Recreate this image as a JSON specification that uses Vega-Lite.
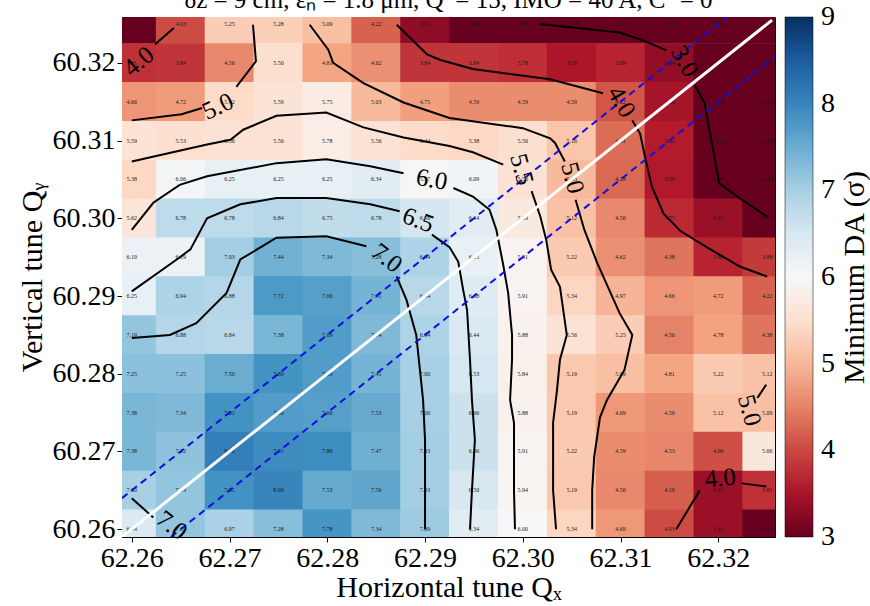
{
  "$schema": "https://vega.github.io/schema/vega-lite/v6.json",
  "width": 653,
  "height": 520,
  "autosize": {"type": "none"},
  "padding": {"left": 122, "top": 17, "right": 95, "bottom": 69},
  "background": "white",
  "config": {
    "view": {"stroke": "black", "strokeWidth": 1},
    "font": "Liberation Serif",
    "axis": {
      "labelFont": "Liberation Serif", "labelFontSize": 28, "labelColor": "black",
      "titleFont": "Liberation Serif", "titleFontSize": 30, "titleFontWeight": "normal", "titleColor": "black",
      "tickColor": "black", "domainColor": "black", "grid": false, "tickSize": 5, "labelPadding": 2,
      "labelFlush": false, "labelOverlap": false
    }
  },
  "title": {
    "text": "δz = 9 cm, εₙ = 1.8 μm, Q′ = 15, IMO = 40 A, C⁻ = 0",
    "font": "Liberation Serif", "fontSize": 25, "fontWeight": "normal", "color": "black",
    "baseline": "alphabetic", "offset": 6, "dy": 22, "anchor": "middle", "frame": "group"
  },
  "resolve": {"axis": {"y": "independent"}},
  "datasets": {
    "grid": [
      {"qx":62.26,"qy":60.325,"v":2.97},{"qx":62.265,"qy":60.325,"v":4.03},{"qx":62.27,"qy":60.325,"v":5.25},{"qx":62.275,"qy":60.325,"v":5.28},{"qx":62.28,"qy":60.325,"v":5.09},{"qx":62.285,"qy":60.325,"v":4.22},{"qx":62.29,"qy":60.325,"v":3.31},{"qx":62.295,"qy":60.325,"v":2.84},{"qx":62.3,"qy":60.325,"v":2.89},{"qx":62.305,"qy":60.325,"v":2.98},{"qx":62.31,"qy":60.325,"v":2.53},{"qx":62.315,"qy":60.325,"v":2.56},{"qx":62.32,"qy":60.325,"v":2.62},{"qx":62.325,"qy":60.325,"v":2.5},
      {"qx":62.26,"qy":60.32,"v":3.81},{"qx":62.265,"qy":60.32,"v":3.84},{"qx":62.27,"qy":60.32,"v":4.56},{"qx":62.275,"qy":60.32,"v":5.5},{"qx":62.28,"qy":60.32,"v":4.81},{"qx":62.285,"qy":60.32,"v":4.62},{"qx":62.29,"qy":60.32,"v":3.84},{"qx":62.295,"qy":60.32,"v":3.84},{"qx":62.3,"qy":60.32,"v":3.78},{"qx":62.305,"qy":60.32,"v":3.56},{"qx":62.31,"qy":60.32,"v":3.69},{"qx":62.315,"qy":60.32,"v":3.34},{"qx":62.32,"qy":60.32,"v":2.66},{"qx":62.325,"qy":60.32,"v":2.5},
      {"qx":62.26,"qy":60.315,"v":4.66},{"qx":62.265,"qy":60.315,"v":4.72},{"qx":62.27,"qy":60.315,"v":5.42},{"qx":62.275,"qy":60.315,"v":5.59},{"qx":62.28,"qy":60.315,"v":5.75},{"qx":62.285,"qy":60.315,"v":5.03},{"qx":62.29,"qy":60.315,"v":4.75},{"qx":62.295,"qy":60.315,"v":4.59},{"qx":62.3,"qy":60.315,"v":4.59},{"qx":62.305,"qy":60.315,"v":4.59},{"qx":62.31,"qy":60.315,"v":4.12},{"qx":62.315,"qy":60.315,"v":3.5},{"qx":62.32,"qy":60.315,"v":2.81},{"qx":62.325,"qy":60.315,"v":2.5},
      {"qx":62.26,"qy":60.31,"v":5.59},{"qx":62.265,"qy":60.31,"v":5.53},{"qx":62.27,"qy":60.31,"v":5.56},{"qx":62.275,"qy":60.31,"v":5.56},{"qx":62.28,"qy":60.31,"v":5.78},{"qx":62.285,"qy":60.31,"v":5.56},{"qx":62.29,"qy":60.31,"v":5.44},{"qx":62.295,"qy":60.31,"v":5.38},{"qx":62.3,"qy":60.31,"v":5.5},{"qx":62.305,"qy":60.31,"v":5.16},{"qx":62.31,"qy":60.31,"v":4.31},{"qx":62.315,"qy":60.31,"v":3.62},{"qx":62.32,"qy":60.31,"v":2.81},{"qx":62.325,"qy":60.31,"v":2.5},
      {"qx":62.26,"qy":60.305,"v":5.38},{"qx":62.265,"qy":60.305,"v":6.06},{"qx":62.27,"qy":60.305,"v":6.25},{"qx":62.275,"qy":60.305,"v":6.25},{"qx":62.28,"qy":60.305,"v":6.25},{"qx":62.285,"qy":60.305,"v":6.34},{"qx":62.29,"qy":60.305,"v":5.97},{"qx":62.295,"qy":60.305,"v":6.09},{"qx":62.3,"qy":60.305,"v":5.56},{"qx":62.305,"qy":60.305,"v":5.03},{"qx":62.31,"qy":60.305,"v":4.28},{"qx":62.315,"qy":60.305,"v":3.59},{"qx":62.32,"qy":60.305,"v":2.98},{"qx":62.325,"qy":60.305,"v":2.5},
      {"qx":62.26,"qy":60.3,"v":5.62},{"qx":62.265,"qy":60.3,"v":6.78},{"qx":62.27,"qy":60.3,"v":6.78},{"qx":62.275,"qy":60.3,"v":6.84},{"qx":62.28,"qy":60.3,"v":6.75},{"qx":62.285,"qy":60.3,"v":6.78},{"qx":62.29,"qy":60.3,"v":6.56},{"qx":62.295,"qy":60.3,"v":6.34},{"qx":62.3,"qy":60.3,"v":5.69},{"qx":62.305,"qy":60.3,"v":5.12},{"qx":62.31,"qy":60.3,"v":4.56},{"qx":62.315,"qy":60.3,"v":3.75},{"qx":62.32,"qy":60.3,"v":3.41},{"qx":62.325,"qy":60.3,"v":2.85},
      {"qx":62.26,"qy":60.295,"v":6.19},{"qx":62.265,"qy":60.295,"v":6.19},{"qx":62.27,"qy":60.295,"v":7.03},{"qx":62.275,"qy":60.295,"v":7.44},{"qx":62.28,"qy":60.295,"v":7.34},{"qx":62.285,"qy":60.295,"v":7.28},{"qx":62.29,"qy":60.295,"v":6.94},{"qx":62.295,"qy":60.295,"v":6.25},{"qx":62.3,"qy":60.295,"v":5.91},{"qx":62.305,"qy":60.295,"v":5.22},{"qx":62.31,"qy":60.295,"v":4.62},{"qx":62.315,"qy":60.295,"v":4.38},{"qx":62.32,"qy":60.295,"v":3.69},{"qx":62.325,"qy":60.295,"v":3.88},
      {"qx":62.26,"qy":60.29,"v":6.25},{"qx":62.265,"qy":60.29,"v":6.94},{"qx":62.27,"qy":60.29,"v":6.88},{"qx":62.275,"qy":60.29,"v":7.72},{"qx":62.28,"qy":60.29,"v":7.66},{"qx":62.285,"qy":60.29,"v":7.41},{"qx":62.29,"qy":60.29,"v":6.84},{"qx":62.295,"qy":60.29,"v":6.38},{"qx":62.3,"qy":60.29,"v":5.91},{"qx":62.305,"qy":60.29,"v":5.34},{"qx":62.31,"qy":60.29,"v":4.97},{"qx":62.315,"qy":60.29,"v":4.66},{"qx":62.32,"qy":60.29,"v":4.72},{"qx":62.325,"qy":60.29,"v":4.22},
      {"qx":62.26,"qy":60.285,"v":7.19},{"qx":62.265,"qy":60.285,"v":6.88},{"qx":62.27,"qy":60.285,"v":6.84},{"qx":62.275,"qy":60.285,"v":7.38},{"qx":62.28,"qy":60.285,"v":7.69},{"qx":62.285,"qy":60.285,"v":7.34},{"qx":62.29,"qy":60.285,"v":6.94},{"qx":62.295,"qy":60.285,"v":6.44},{"qx":62.3,"qy":60.285,"v":5.88},{"qx":62.305,"qy":60.285,"v":5.56},{"qx":62.31,"qy":60.285,"v":5.25},{"qx":62.315,"qy":60.285,"v":4.5},{"qx":62.32,"qy":60.285,"v":4.78},{"qx":62.325,"qy":60.285,"v":4.38},
      {"qx":62.26,"qy":60.28,"v":7.25},{"qx":62.265,"qy":60.28,"v":7.25},{"qx":62.27,"qy":60.28,"v":7.5},{"qx":62.275,"qy":60.28,"v":7.8},{"qx":62.28,"qy":60.28,"v":7.69},{"qx":62.285,"qy":60.28,"v":7.41},{"qx":62.29,"qy":60.28,"v":7.0},{"qx":62.295,"qy":60.28,"v":6.53},{"qx":62.3,"qy":60.28,"v":5.84},{"qx":62.305,"qy":60.28,"v":5.19},{"qx":62.31,"qy":60.28,"v":5.09},{"qx":62.315,"qy":60.28,"v":4.81},{"qx":62.32,"qy":60.28,"v":5.22},{"qx":62.325,"qy":60.28,"v":5.12},
      {"qx":62.26,"qy":60.275,"v":7.38},{"qx":62.265,"qy":60.275,"v":7.34},{"qx":62.27,"qy":60.275,"v":7.81},{"qx":62.275,"qy":60.275,"v":7.69},{"qx":62.28,"qy":60.275,"v":7.66},{"qx":62.285,"qy":60.275,"v":7.53},{"qx":62.29,"qy":60.275,"v":7.0},{"qx":62.295,"qy":60.275,"v":6.66},{"qx":62.3,"qy":60.275,"v":5.88},{"qx":62.305,"qy":60.275,"v":5.19},{"qx":62.31,"qy":60.275,"v":4.69},{"qx":62.315,"qy":60.275,"v":4.59},{"qx":62.32,"qy":60.275,"v":5.12},{"qx":62.325,"qy":60.275,"v":5.09},
      {"qx":62.26,"qy":60.27,"v":7.38},{"qx":62.265,"qy":60.27,"v":7.22},{"qx":62.27,"qy":60.27,"v":8.06},{"qx":62.275,"qy":60.27,"v":7.91},{"qx":62.28,"qy":60.27,"v":7.88},{"qx":62.285,"qy":60.27,"v":7.47},{"qx":62.29,"qy":60.27,"v":7.03},{"qx":62.295,"qy":60.27,"v":6.66},{"qx":62.3,"qy":60.27,"v":5.91},{"qx":62.305,"qy":60.27,"v":5.22},{"qx":62.31,"qy":60.27,"v":4.59},{"qx":62.315,"qy":60.27,"v":4.53},{"qx":62.32,"qy":60.27,"v":4.06},{"qx":62.325,"qy":60.27,"v":5.66},
      {"qx":62.26,"qy":60.265,"v":7.0},{"qx":62.265,"qy":60.265,"v":7.19},{"qx":62.27,"qy":60.265,"v":7.81},{"qx":62.275,"qy":60.265,"v":8.0},{"qx":62.28,"qy":60.265,"v":7.53},{"qx":62.285,"qy":60.265,"v":7.59},{"qx":62.29,"qy":60.265,"v":7.03},{"qx":62.295,"qy":60.265,"v":6.5},{"qx":62.3,"qy":60.265,"v":5.94},{"qx":62.305,"qy":60.265,"v":5.19},{"qx":62.31,"qy":60.265,"v":4.56},{"qx":62.315,"qy":60.265,"v":4.19},{"qx":62.32,"qy":60.265,"v":3.41},{"qx":62.325,"qy":60.265,"v":3.81},
      {"qx":62.26,"qy":60.26,"v":6.44},{"qx":62.265,"qy":60.26,"v":7.19},{"qx":62.27,"qy":60.26,"v":6.97},{"qx":62.275,"qy":60.26,"v":7.28},{"qx":62.28,"qy":60.26,"v":7.78},{"qx":62.285,"qy":60.26,"v":7.34},{"qx":62.29,"qy":60.26,"v":7.09},{"qx":62.295,"qy":60.26,"v":6.34},{"qx":62.3,"qy":60.26,"v":6.0},{"qx":62.305,"qy":60.26,"v":5.34},{"qx":62.31,"qy":60.26,"v":4.69},{"qx":62.315,"qy":60.26,"v":4.03},{"qx":62.32,"qy":60.26,"v":3.41},{"qx":62.325,"qy":60.26,"v":2.69}
    ],
    "contours": [
      {"seg":"a","i":0,"qx":62.2643,"qy":60.3245},{"seg":"a","i":1,"qx":62.2624,"qy":60.3224},
      {"seg":"b1","i":0,"qx":62.2724,"qy":60.3249},{"seg":"b1","i":1,"qx":62.2727,"qy":60.3202},{"seg":"b1","i":2,"qx":62.2707,"qy":60.3169},
      {"seg":"b2","i":0,"qx":62.2672,"qy":60.3142},{"seg":"b2","i":1,"qx":62.2651,"qy":60.3134},{"seg":"b2","i":2,"qx":62.26,"qy":60.3126},
      {"seg":"c1","i":0,"qx":62.2871,"qy":60.3249},{"seg":"c1","i":1,"qx":62.2902,"qy":60.3211},{"seg":"c1","i":2,"qx":62.2915,"qy":60.3204},{"seg":"c1","i":3,"qx":62.2949,"qy":60.3192},{"seg":"c1","i":4,"qx":62.3028,"qy":60.3179},{"seg":"c1","i":5,"qx":62.3082,"qy":60.3161},
      {"seg":"c2","i":0,"qx":62.3112,"qy":60.3126},{"seg":"c2","i":1,"qx":62.312,"qy":60.3109},{"seg":"c2","i":2,"qx":62.3125,"qy":60.3079},{"seg":"c2","i":3,"qx":62.3132,"qy":60.3041},{"seg":"c2","i":4,"qx":62.3144,"qy":60.3006},{"seg":"c2","i":5,"qx":62.3161,"qy":60.2984},{"seg":"c2","i":6,"qx":62.3188,"qy":60.2963},{"seg":"c2","i":7,"qx":62.3222,"qy":60.2938},{"seg":"c2","i":8,"qx":62.325,"qy":60.2925},
      {"seg":"d1","i":0,"qx":62.3017,"qy":60.325},{"seg":"d1","i":1,"qx":62.3099,"qy":60.3239},{"seg":"d1","i":2,"qx":62.3123,"qy":60.3229},{"seg":"d1","i":3,"qx":62.3147,"qy":60.3216},
      {"seg":"d2","i":0,"qx":62.3176,"qy":60.3171},{"seg":"d2","i":1,"qx":62.3186,"qy":60.3148},{"seg":"d2","i":2,"qx":62.3191,"qy":60.3113},{"seg":"d2","i":3,"qx":62.3196,"qy":60.3079},{"seg":"d2","i":4,"qx":62.3201,"qy":60.3045},{"seg":"d2","i":5,"qx":62.3225,"qy":60.3023},{"seg":"d2","i":6,"qx":62.325,"qy":60.3002},
      {"seg":"e1","i":0,"qx":62.2782,"qy":60.3249},{"seg":"e1","i":1,"qx":62.2801,"qy":60.3217},{"seg":"e1","i":2,"qx":62.2806,"qy":60.32},{"seg":"e1","i":3,"qx":62.2837,"qy":60.3174},{"seg":"e1","i":4,"qx":62.2878,"qy":60.3149},{"seg":"e1","i":5,"qx":62.2925,"qy":60.3129},{"seg":"e1","i":6,"qx":62.3,"qy":60.3116},{"seg":"e1","i":7,"qx":62.3028,"qy":60.3103},{"seg":"e1","i":8,"qx":62.3033,"qy":60.3097},{"seg":"e1","i":9,"qx":62.3043,"qy":60.3073},
      {"seg":"e2","i":0,"qx":62.3054,"qy":60.3024},{"seg":"e2","i":1,"qx":62.3063,"qy":60.2985},{"seg":"e2","i":2,"qx":62.3076,"qy":60.2943},{"seg":"e2","i":3,"qx":62.3099,"qy":60.2878},{"seg":"e2","i":4,"qx":62.3112,"qy":60.285},{"seg":"e2","i":5,"qx":62.3104,"qy":60.2805},{"seg":"e2","i":6,"qx":62.3086,"qy":60.2766},{"seg":"e2","i":7,"qx":62.3079,"qy":60.2744},{"seg":"e2","i":8,"qx":62.3073,"qy":60.2693},{"seg":"e2","i":9,"qx":62.3071,"qy":60.265},{"seg":"e2","i":10,"qx":62.3071,"qy":60.26},
      {"seg":"f1","i":0,"qx":62.26,"qy":60.3073},{"seg":"f1","i":1,"qx":62.2677,"qy":60.3095},{"seg":"f1","i":2,"qx":62.2701,"qy":60.3101},{"seg":"f1","i":3,"qx":62.2714,"qy":60.3114},{"seg":"f1","i":4,"qx":62.2748,"qy":60.3132},{"seg":"f1","i":5,"qx":62.2799,"qy":60.3136},{"seg":"f1","i":6,"qx":62.2837,"qy":60.3117},{"seg":"f1","i":7,"qx":62.2878,"qy":60.3104},{"seg":"f1","i":8,"qx":62.2925,"qy":60.3093},{"seg":"f1","i":9,"qx":62.2949,"qy":60.3085},{"seg":"f1","i":10,"qx":62.298,"qy":60.3069},
      {"seg":"f2","i":0,"qx":62.3009,"qy":60.3035},{"seg":"f2","i":1,"qx":62.3018,"qy":60.3002},{"seg":"f2","i":2,"qx":62.3024,"qy":60.2972},{"seg":"f2","i":3,"qx":62.3029,"qy":60.2934},{"seg":"f2","i":4,"qx":62.3038,"qy":60.2912},{"seg":"f2","i":5,"qx":62.3045,"qy":60.285},{"seg":"f2","i":6,"qx":62.3038,"qy":60.2818},{"seg":"f2","i":7,"qx":62.3035,"qy":60.2779},{"seg":"f2","i":8,"qx":62.3031,"qy":60.2737},{"seg":"f2","i":9,"qx":62.3031,"qy":60.265},{"seg":"f2","i":10,"qx":62.3034,"qy":60.26},
      {"seg":"g1","i":0,"qx":62.26,"qy":60.2985},{"seg":"g1","i":1,"qx":62.2622,"qy":60.302},{"seg":"g1","i":2,"qx":62.2649,"qy":60.3043},{"seg":"g1","i":3,"qx":62.2677,"qy":60.3054},{"seg":"g1","i":4,"qx":62.2748,"qy":60.3071},{"seg":"g1","i":5,"qx":62.2799,"qy":60.3076},{"seg":"g1","i":6,"qx":62.2844,"qy":60.3067},{"seg":"g1","i":7,"qx":62.2878,"qy":60.3058},
      {"seg":"g2","i":0,"qx":62.2929,"qy":60.3039},{"seg":"g2","i":1,"qx":62.2949,"qy":60.3028},{"seg":"g2","i":2,"qx":62.2966,"qy":60.3011},{"seg":"g2","i":3,"qx":62.2973,"qy":60.2985},{"seg":"g2","i":4,"qx":62.298,"qy":60.294},{"seg":"g2","i":5,"qx":62.2985,"qy":60.2904},{"seg":"g2","i":6,"qx":62.2989,"qy":60.285},{"seg":"g2","i":7,"qx":62.2989,"qy":60.2818},{"seg":"g2","i":8,"qx":62.2987,"qy":60.2766},{"seg":"g2","i":9,"qx":62.2991,"qy":60.2737},{"seg":"g2","i":10,"qx":62.2991,"qy":60.265},{"seg":"g2","i":11,"qx":62.2992,"qy":60.26},
      {"seg":"h1","i":0,"qx":62.26,"qy":60.2906},{"seg":"h1","i":1,"qx":62.2646,"qy":60.2947},{"seg":"h1","i":2,"qx":62.266,"qy":60.296},{"seg":"h1","i":3,"qx":62.2677,"qy":60.3},{"seg":"h1","i":4,"qx":62.2711,"qy":60.3018},{"seg":"h1","i":5,"qx":62.2748,"qy":60.3026},{"seg":"h1","i":6,"qx":62.2799,"qy":60.3026},{"seg":"h1","i":7,"qx":62.2844,"qy":60.3018},{"seg":"h1","i":8,"qx":62.2874,"qy":60.3009},
      {"seg":"h2","i":0,"qx":62.2907,"qy":60.2979},{"seg":"h2","i":1,"qx":62.2925,"qy":60.2963},{"seg":"h2","i":2,"qx":62.2934,"qy":60.2944},{"seg":"h2","i":3,"qx":62.2939,"qy":60.2908},{"seg":"h2","i":4,"qx":62.2943,"qy":60.2882},{"seg":"h2","i":5,"qx":62.2946,"qy":60.2818},{"seg":"h2","i":6,"qx":62.2948,"qy":60.2766},{"seg":"h2","i":7,"qx":62.2951,"qy":60.2715},{"seg":"h2","i":8,"qx":62.2948,"qy":60.265},{"seg":"h2","i":9,"qx":62.2946,"qy":60.26},
      {"seg":"i1","i":0,"qx":62.26,"qy":60.2846},{"seg":"i1","i":1,"qx":62.2639,"qy":60.285},{"seg":"i1","i":2,"qx":62.2666,"qy":60.2865},{"seg":"i1","i":3,"qx":62.2697,"qy":60.2904},{"seg":"i1","i":4,"qx":62.2711,"qy":60.2947},{"seg":"i1","i":5,"qx":62.2748,"qy":60.2975},{"seg":"i1","i":6,"qx":62.2799,"qy":60.2977},{"seg":"i1","i":7,"qx":62.284,"qy":60.2964},
      {"seg":"i2","i":0,"qx":62.2871,"qy":60.2925},{"seg":"i2","i":1,"qx":62.2881,"qy":60.2895},{"seg":"i2","i":2,"qx":62.2891,"qy":60.285},{"seg":"i2","i":3,"qx":62.2898,"qy":60.2766},{"seg":"i2","i":4,"qx":62.29,"qy":60.2715},{"seg":"i2","i":5,"qx":62.29,"qy":60.26},
      {"seg":"j","i":0,"qx":62.26,"qy":60.264},{"seg":"j","i":1,"qx":62.2622,"qy":60.2615},
      {"seg":"k","i":0,"qx":62.3249,"qy":60.2786},{"seg":"k","i":1,"qx":62.324,"qy":60.2769},
      {"seg":"l1","i":0,"qx":62.3157,"qy":60.26},{"seg":"l1","i":1,"qx":62.3181,"qy":60.265},
      {"seg":"l2","i":0,"qx":62.3224,"qy":60.2659},{"seg":"l2","i":1,"qx":62.3249,"qy":60.2655}
    ]
  },
  "encoding": {
    "x": {
      "field": "qx", "type": "quantitative",
      "scale": {"domain": [62.259, 62.3258], "zero": false, "nice": false},
      "axis": {"values": [62.26, 62.27, 62.28, 62.29, 62.3, 62.31, 62.32], "format": ".2f", "title": "Horizontal tune Qₓ", "titlePadding": 0, "labelFont": "Liberation Serif", "titleFont": "Liberation Serif"}
    },
    "y": {
      "field": "qy", "type": "quantitative",
      "scale": {"domain": [60.259, 60.3259], "zero": false, "nice": false},
      "axis": null
    }
  },
  "layer": [
    {
      "data": {"name": "grid"},
      "mark": {"type": "rect", "width": 49.6, "height": 39.4, "clip": true},
      "encoding": {
        "y": {
          "field": "qy", "type": "quantitative",
          "scale": {"domain": [60.259, 60.3259], "zero": false, "nice": false},
          "axis": {"orient": "left", "values": [60.26, 60.27, 60.28, 60.29, 60.3, 60.31, 60.32], "format": ".2f", "title": "Vertical tune Qᵧ", "titlePadding": 5, "labelFont": "Liberation Serif", "titleFont": "Liberation Serif"}
        },
        "color": {
          "field": "v", "type": "quantitative",
          "scale": {
            "domain": [3, 3.6, 4.2, 4.8, 5.4, 6, 6.6, 7.2, 7.8, 8.4, 9],
            "range": ["#67001f", "#b2182b", "#d6604d", "#f4a582", "#fddbc7", "#f7f7f7", "#d1e5f0", "#92c5de", "#4393c3", "#2166ac", "#053061"],
            "interpolate": "rgb", "clamp": true
          },
          "legend": {
            "orient": "none", "legendX": 663, "legendY": 0, "direction": "vertical",
            "gradientLength": 520, "gradientThickness": 28,
            "gradientStrokeColor": "black", "gradientStrokeWidth": 0.5,
            "values": [3, 4, 5, 6, 7, 8, 9], "format": "d",
            "labelFont": "Liberation Serif", "labelFontSize": 28, "labelColor": "black", "labelOffset": 8, "labelBaseline": "middle",
            "title": null,
            "encode": {"labels": {"update": {"baseline": {"value": "middle"}}}}
          }
        }
      }
    },
    {
      "data": {"name": "grid"},
      "mark": {"type": "text", "fontSize": 6, "font": "Liberation Serif", "color": "#1a1a1a"},
      "encoding": {"text": {"field": "v", "type": "quantitative", "format": ".2f"}}
    },
    {
      "data": {"name": "contours"},
      "mark": {"type": "line", "color": "black", "strokeWidth": 2, "clip": true},
      "encoding": {"detail": {"field": "seg"}, "order": {"field": "i"}}
    },
    {
      "data": {"values": [{"qx": 62.259, "qy": 60.259}, {"qx": 62.3255, "qy": 60.3255}]},
      "mark": {"type": "line", "color": "white", "strokeWidth": 3, "clip": true},
      "encoding": {
        "y": {
          "field": "qy", "type": "quantitative",
          "scale": {"domain": [60.259, 60.3259], "zero": false, "nice": false},
          "axis": {"orient": "right", "title": "Minimum DA (σ)", "labels": false, "ticks": false, "domain": false, "grid": false,
                   "titleAngle": 270, "titleBaseline": "top", "titlePadding": 64, "titleFont": "Liberation Serif", "titleFontSize": 30, "titleFontWeight": "normal", "titleColor": "black"}
        }
      }
    },
    {
      "data": {"values": [
        {"ln": "upper", "qx": 62.259, "qy": 60.264}, {"ln": "upper", "qx": 62.3209, "qy": 60.3259},
        {"ln": "lower", "qx": 62.264, "qy": 60.259}, {"ln": "lower", "qx": 62.3258, "qy": 60.3208}
      ]},
      "mark": {"type": "line", "color": "#1010e0", "strokeWidth": 2, "strokeDash": [7, 5], "clip": true},
      "encoding": {"detail": {"field": "ln"}}
    },
    {
      "data": {"values": [{"qx": 62.2607, "qy": 60.3202, "lab": "4.0"}]},
      "mark": {"type": "text", "fontSize": 25, "font": "Liberation Serif", "color": "black", "angle": -40},
      "encoding": {"text": {"field": "lab"}}
    },
    {
      "data": {"values": [{"qx": 62.2688, "qy": 60.3144, "lab": "5.0"}]},
      "mark": {"type": "text", "fontSize": 25, "font": "Liberation Serif", "color": "black", "angle": -25},
      "encoding": {"text": {"field": "lab"}}
    },
    {
      "data": {"values": [{"qx": 62.2907, "qy": 60.305, "lab": "6.0"}]},
      "mark": {"type": "text", "fontSize": 25, "font": "Liberation Serif", "color": "black", "angle": 10},
      "encoding": {"text": {"field": "lab"}}
    },
    {
      "data": {"values": [{"qx": 62.2893, "qy": 60.2998, "lab": "6.5"}]},
      "mark": {"type": "text", "fontSize": 25, "font": "Liberation Serif", "color": "black", "angle": 20},
      "encoding": {"text": {"field": "lab"}}
    },
    {
      "data": {"values": [{"qx": 62.2861, "qy": 60.2949, "lab": "7.0"}, {"qx": 62.2641, "qy": 60.2605, "lab": "7.0"}]},
      "mark": {"type": "text", "fontSize": 25, "font": "Liberation Serif", "color": "black", "angle": 38},
      "encoding": {"text": {"field": "lab"}}
    },
    {
      "data": {"values": [{"qx": 62.3101, "qy": 60.315, "lab": "4.0"}, {"qx": 62.3166, "qy": 60.3202, "lab": "3.0"}]},
      "mark": {"type": "text", "fontSize": 25, "font": "Liberation Serif", "color": "black", "angle": 60},
      "encoding": {"text": {"field": "lab"}}
    },
    {
      "data": {"values": [{"qx": 62.2999, "qy": 60.3063, "lab": "5.5"}, {"qx": 62.3051, "qy": 60.3052, "lab": "5.0"}, {"qx": 62.3232, "qy": 60.2753, "lab": "5.0"}]},
      "mark": {"type": "text", "fontSize": 25, "font": "Liberation Serif", "color": "black", "angle": 75},
      "encoding": {"text": {"field": "lab"}}
    },
    {
      "data": {"values": [{"qx": 62.3202, "qy": 60.2666, "lab": "4.0"}]},
      "mark": {"type": "text", "fontSize": 25, "font": "Liberation Serif", "color": "black", "angle": -5},
      "encoding": {"text": {"field": "lab"}}
    }
  ]
}
